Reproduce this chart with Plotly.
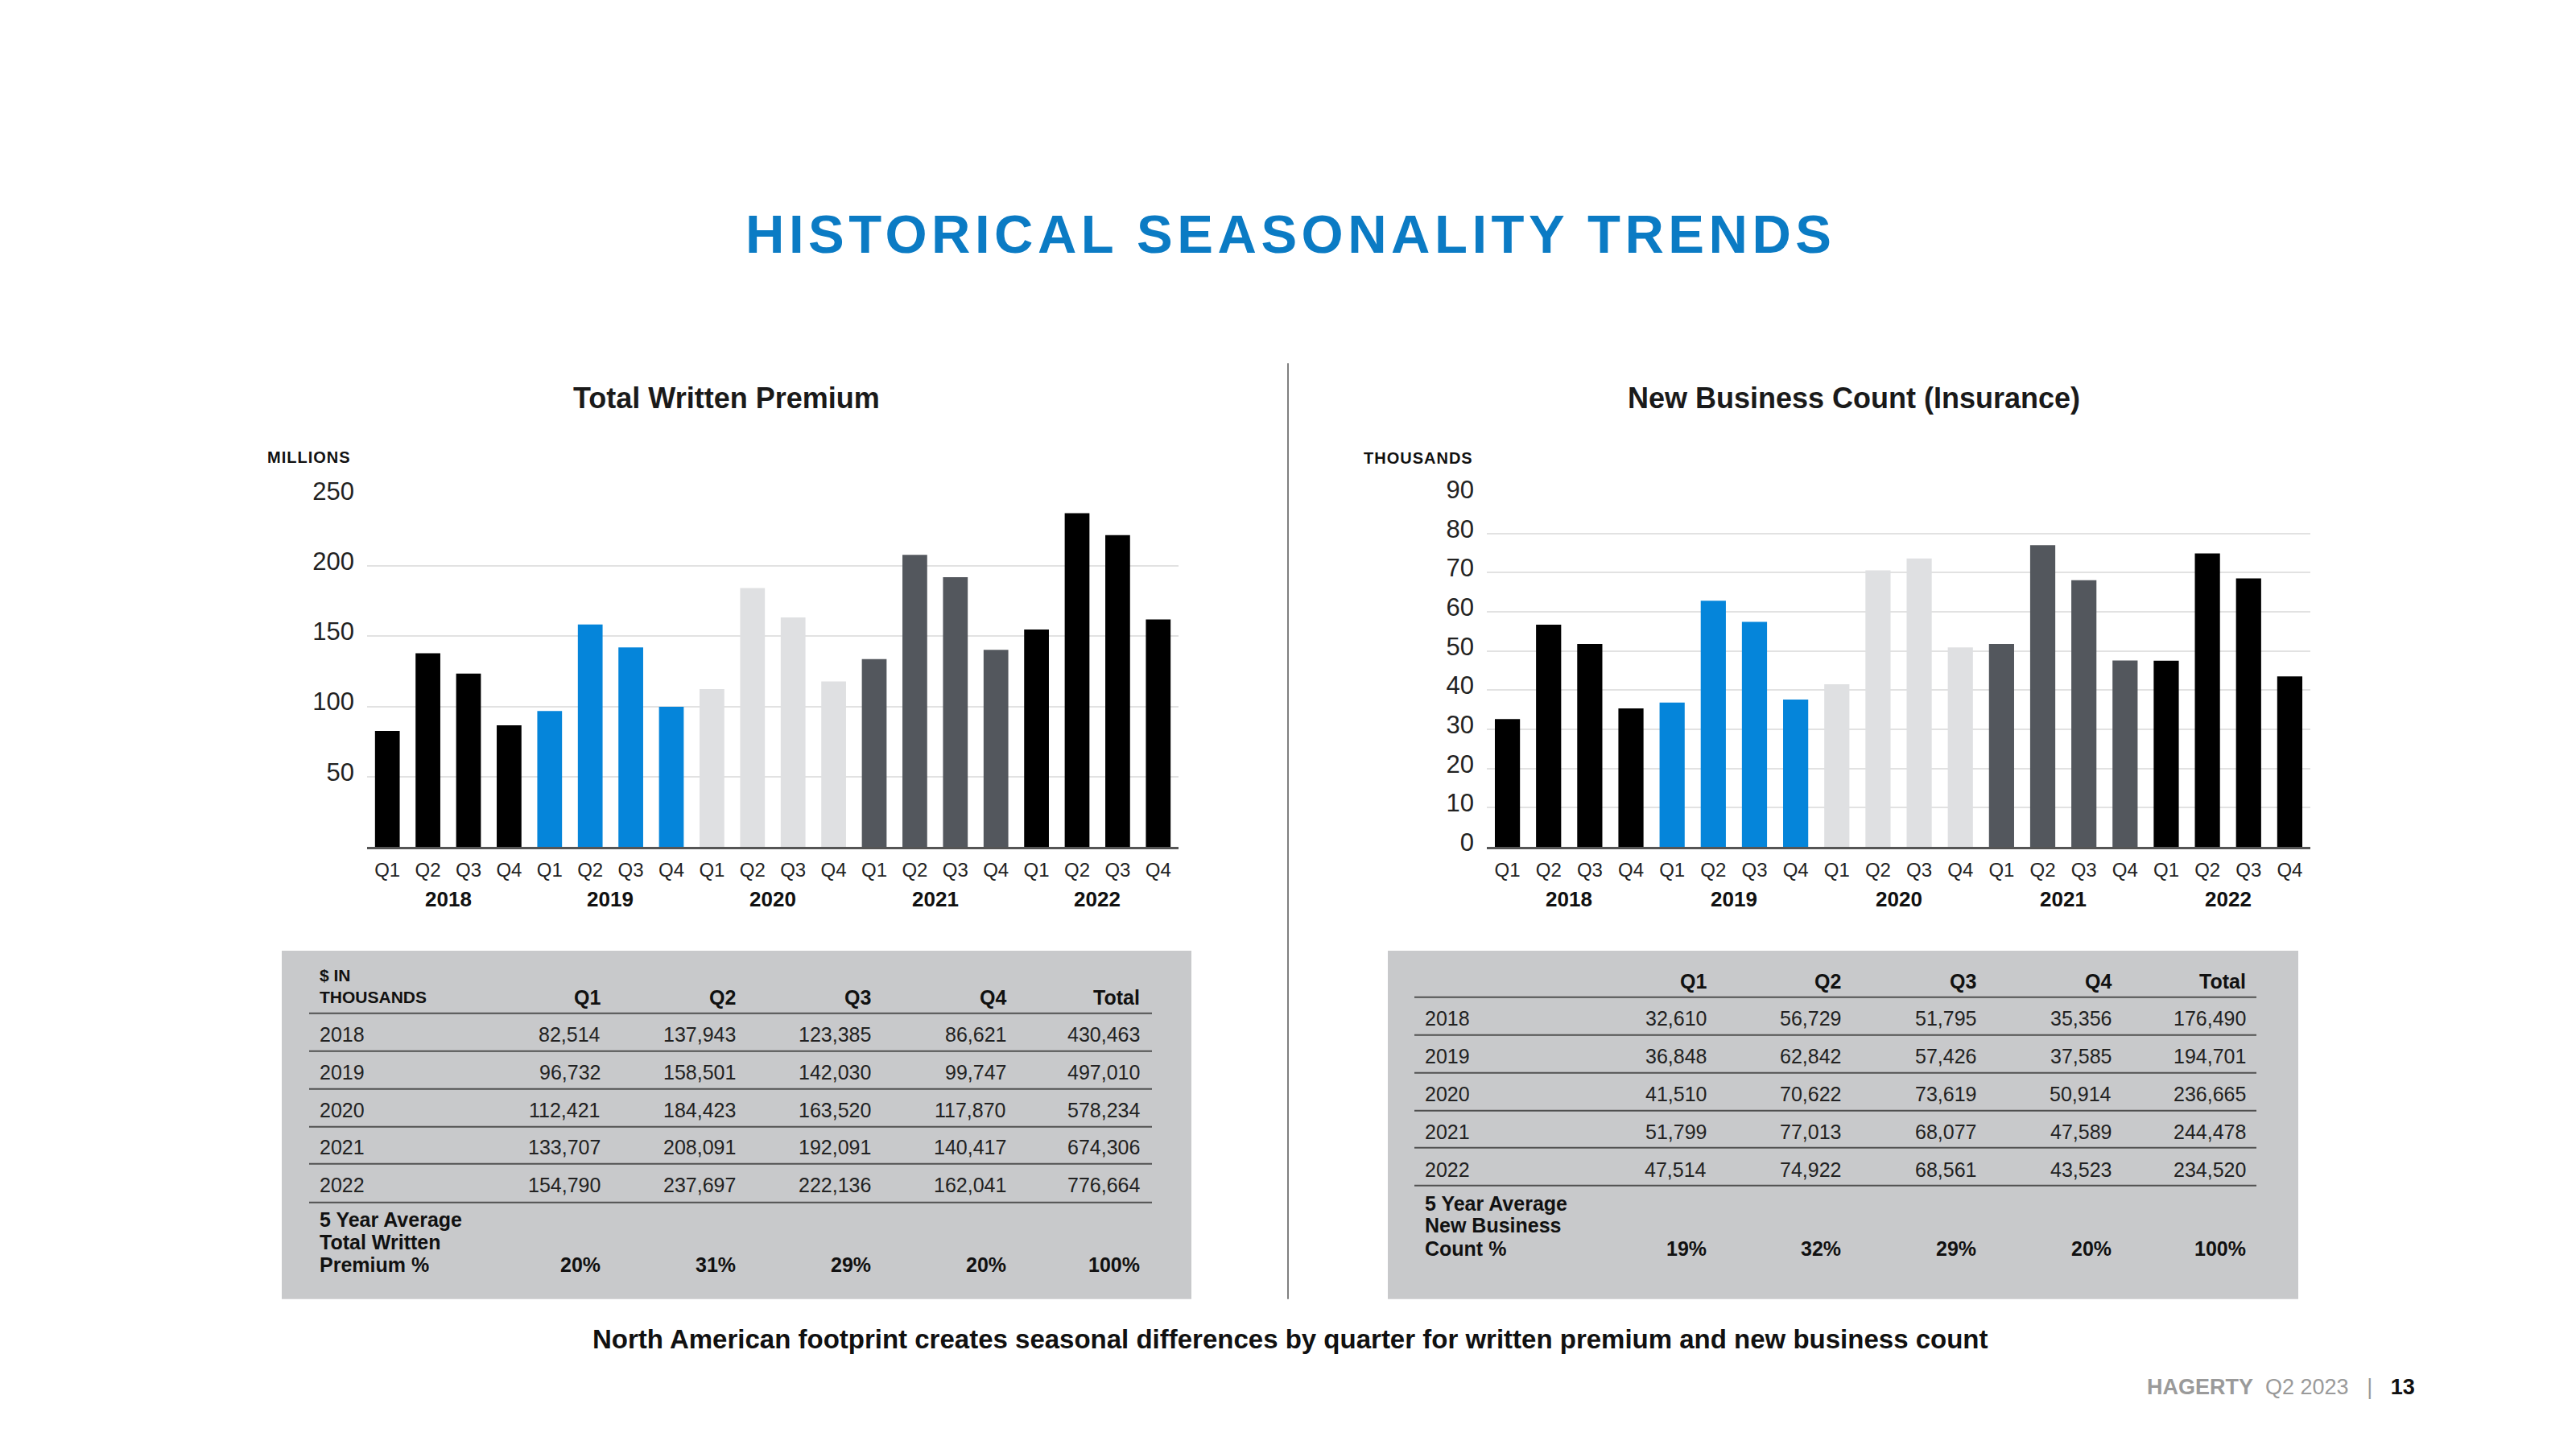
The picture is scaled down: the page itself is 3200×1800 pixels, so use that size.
import plotly.graph_objects as go

# ---------------- data ----------------
years = ["2018", "2019", "2020", "2021", "2022"]
quarters = ["Q1", "Q2", "Q3", "Q4"]

premium_2018 = [82514, 137943, 123385, 86621]
premium_2019 = [96732, 158501, 142030, 99747]
premium_2020 = [112421, 184423, 163520, 117870]
premium_2021 = [133707, 208091, 192091, 140417]
premium_2022 = [154790, 237697, 222136, 162041]
premium_totals = [430463, 497010, 578234, 674306, 776664]
premium_pct = ["20%", "31%", "29%", "20%", "100%"]

count_2018 = [32610, 56729, 51795, 35356]
count_2019 = [36848, 62842, 57426, 37585]
count_2020 = [41510, 70622, 73619, 50914]
count_2021 = [51799, 77013, 68077, 47589]
count_2022 = [47514, 74922, 68561, 43523]
count_totals = [176490, 194701, 236665, 244478, 234520]
count_pct = ["19%", "32%", "29%", "20%", "100%"]

premium_rows = [premium_2018, premium_2019, premium_2020, premium_2021, premium_2022]
count_rows = [count_2018, count_2019, count_2020, count_2021, count_2022]

premium_ticks = [50, 100, 150, 200, 250]
count_ticks = [0, 10, 20, 30, 40, 50, 60, 70, 80, 90]

year_colors = ["#000000", "#0585da", "#dfe0e2", "#53575d", "#000000"]

# ---------------- helpers ----------------
W, H = 3200, 1800
FONT = "Liberation Sans, Arial, sans-serif"
# vertical calibration of the rendered page (observed offset / scale)
CAL_A, CAL_B = 10.6, 0.981


def px(x):
    return x / W


def py(y):
    return 1 - ((y - CAL_A) / CAL_B) / H


x_cats = [f"{y} {q}" for y in years for q in quarters]
q_text = [q for _ in years for q in quarters]
bar_colors = [year_colors[i // len(quarters)] for i in range(len(x_cats))]
premium_m = [v / 1000 for row in premium_rows for v in row]
count_k = [v / 1000 for row in count_rows for v in row]

fig = go.Figure()
fig.add_trace(go.Bar(x=x_cats, y=premium_m, marker=dict(color=bar_colors, line=dict(width=0)),
                     xaxis="x", yaxis="y", showlegend=False, hoverinfo="skip"))
fig.add_trace(go.Bar(x=x_cats, y=count_k, marker=dict(color=bar_colors, line=dict(width=0)),
                     xaxis="x2", yaxis="y2", showlegend=False, hoverinfo="skip"))

axis_x_common = dict(type="category", tickmode="array", tickvals=x_cats, ticktext=q_text,
                     showline=True, linecolor="#555555", linewidth=3, showgrid=False,
                     ticks="", tickfont=dict(family=FONT, size=24, color="#222222"),
                     ticklabelstandoff=5, fixedrange=True)
axis_y_common = dict(showgrid=True, gridcolor="#e2e2e2", gridwidth=2, zeroline=False,
                     showline=False, ticks="", tickfont=dict(family=FONT, size=31, color="#222222"),
                     ticklabelstandoff=15, ticklabelshift=-6, fixedrange=True)

annotations = []
shapes = []

fig.update_layout(
    width=W, height=H,
    margin=dict(l=0, r=0, t=0, b=0),
    paper_bgcolor="white", plot_bgcolor="white",
    bargap=0.39,
    xaxis=dict(domain=[px(456), px(1464)], anchor="y", **axis_x_common),
    yaxis=dict(domain=[py(1040), py(604)], anchor="x", range=[0, 250],
               tickvals=premium_ticks, **axis_y_common),
    xaxis2=dict(domain=[px(1847), px(2870)], anchor="y2", **axis_x_common),
    yaxis2=dict(domain=[py(1040), py(602)], anchor="x2", range=[0, 90],
                tickvals=count_ticks, **axis_y_common),
)


def ann(text, x, y, size, color="#1a1a1a", bold=False, xanchor="center", xref="paper",
        yref="paper", spacing=None):
    t = text
    if spacing is not None:
        t = f"<span style='letter-spacing:{spacing}px'>{t}</span>"
    if bold:
        t = f"<b>{t}</b>"
    annotations.append(dict(text=t, x=x, y=y, xref=xref, yref=yref, xanchor=xanchor,
                            yanchor="middle", showarrow=False,
                            font=dict(family=FONT, size=size, color=color)))


# main title
ann("HISTORICAL SEASONALITY TRENDS", px(1603), py(278), 67, color="#0b7bc4", bold=True, spacing=5.5)

# chart titles and units
ann("Total Written Premium", px(903), py(482), 36, color="#1a1a1a", bold=True)
ann("New Business Count (Insurance)", px(2303), py(482), 36, color="#1a1a1a", bold=True)
ann("MILLIONS", px(384), py(556), 20, color="#111111", bold=True, spacing=1)
ann("THOUSANDS", px(1762), py(557), 20, color="#111111", bold=True, spacing=1)

# year labels under the quarter ticks
for xr in ["x", "x2"]:
    for i, yr in enumerate(years):
        center = i * len(quarters) + (len(quarters) - 1) / 2
        ann(yr, center, py(1105), 26, color="#111111", bold=True, xref=xr)

# vertical divider
shapes.append(dict(type="line", xref="paper", yref="paper", x0=px(1600), x1=px(1600),
                   y0=py(439), y1=py(1602), line=dict(color="#7f7f7f", width=2)))


def draw_table(box, text_left, line_span, col_right, header_y, extra_header, line_ys, row_ys,
               rows, totals, avg_lines, avg_ys, pct):
    bx0, bx1, by0, by1 = box
    shapes.append(dict(type="rect", xref="paper", yref="paper", x0=px(bx0), x1=px(bx1),
                       y0=py(by1), y1=py(by0), fillcolor="#c8c9cb", line=dict(width=0),
                       layer="below"))
    for ly in line_ys:
        shapes.append(dict(type="line", xref="paper", yref="paper", x0=px(line_span[0]),
                           x1=px(line_span[1]), y0=py(ly), y1=py(ly),
                           line=dict(color="#505050", width=2)))
    for txt, yy in extra_header:
        ann(txt, px(text_left), py(yy), 21, color="#111111", bold=True, xanchor="left")
    for j, h in enumerate(quarters + ["Total"]):
        ann(h, px(col_right[j]), py(header_y), 25, color="#111111", bold=True, xanchor="right")
    for r, (yr, row) in enumerate(zip(years, rows)):
        ann(yr, px(text_left), py(row_ys[r]), 25, color="#222222", xanchor="left")
        vals = row + [totals[r]]
        for j, v in enumerate(vals):
            ann(f"{v:,}", px(col_right[j]), py(row_ys[r]), 25, color="#222222", xanchor="right")
    for txt, yy in zip(avg_lines, avg_ys):
        ann(txt, px(text_left), py(yy), 25, color="#111111", bold=True, xanchor="left")
    for j, p in enumerate(pct):
        ann(p, px(col_right[j]), py(avg_ys[-1]), 25, color="#111111", bold=True, xanchor="right")


draw_table(box=(350, 1480, 1169, 1602), text_left=395, line_span=(384, 1431),
           col_right=[748, 916, 1084, 1252, 1418], header_y=1227,
           extra_header=[("$ IN", 1200), ("THOUSANDS", 1227)],
           line_ys=[1247, 1294, 1341, 1388, 1434, 1482],
           row_ys=[1273, 1320, 1367, 1413, 1460],
           rows=premium_rows, totals=premium_totals,
           avg_lines=["5 Year Average", "Total Written", "Premium %"],
           avg_ys=[1503, 1531, 1559], pct=premium_pct)

draw_table(box=(1724, 2855, 1169, 1602), text_left=1768, line_span=(1757, 2803),
           col_right=[2122, 2289, 2457, 2625, 2792], header_y=1207,
           extra_header=[],
           line_ys=[1227, 1274, 1321, 1368, 1414, 1461],
           row_ys=[1253, 1300, 1347, 1394, 1441],
           rows=count_rows, totals=count_totals,
           avg_lines=["5 Year Average", "New Business", "Count %"],
           avg_ys=[1483, 1510, 1539], pct=count_pct)

# footer
ann("North American footprint creates seasonal differences by quarter for written premium and new business count",
    px(1602), py(1652), 33, color="#111111", bold=True)
annotations.append(dict(
    text="<b><span style='color:#9a9a9a'>HAGERTY</span></b>  <span style='color:#9a9a9a'>Q2 2023</span>"
         "   <span style='color:#9a9a9a'>|</span>   <b>13</b>",
    x=px(3002), y=py(1711), xref="paper", yref="paper", xanchor="right", yanchor="middle",
    showarrow=False, font=dict(family=FONT, size=27, color="#111111")))

fig.update_layout(annotations=annotations, shapes=shapes)
fig.write_html("out.html", config={"displayModeBar": False},
               post_script="document.body.style.margin='0';document.body.style.overflow='hidden';")
